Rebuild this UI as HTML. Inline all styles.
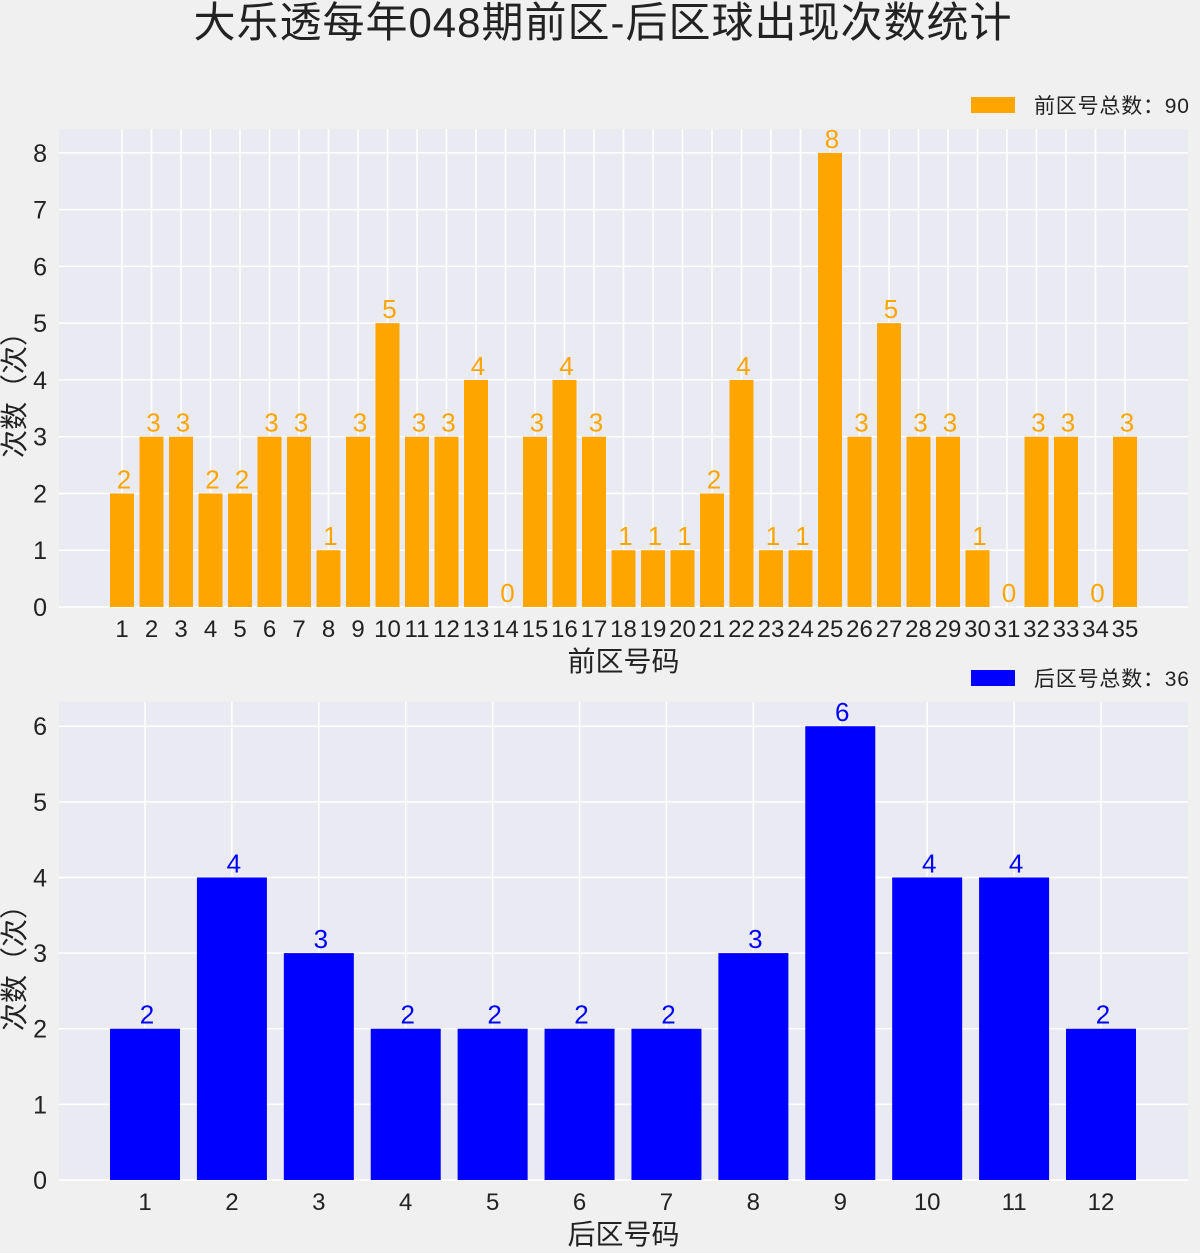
<!DOCTYPE html>
<html><head><meta charset="utf-8"><style>
body{margin:0;background:#f0f0f0;}
svg text{font-family:"Liberation Sans","Noto Sans CJK SC",sans-serif;}
</style></head><body>
<svg id="c" width="1200" height="1248" xmlns="http://www.w3.org/2000/svg">
<rect width="1200" height="1248" fill="#f0f0f0"/>
<text x="603" y="37" text-anchor="middle" font-size="42" letter-spacing="1" fill="#222">大乐透每年048期前区-后区球出现次数统计</text>
</svg>
<script>
const frontCats=[];for(let i=1;i<=35;i++)frontCats.push(String(i));
const frontVals=[2,3,3,2,2,3,3,1,3,5,3,3,4,0,3,4,3,1,1,1,2,4,1,1,8,3,5,3,3,1,0,3,3,0,3];
const frontTicks=[0,1,2,3,4,5,6,7,8];
const backCats=["1","2","3","4","5","6","7","8","9","10","11","12"];
const backVals=[2,4,3,2,2,2,2,3,6,4,4,2];
const backTicks=[0,1,2,3,4,5,6];
const svg=document.getElementById('c');
const NS="http://www.w3.org/2000/svg";
function mk(t,a,txt){const e=document.createElementNS(NS,t);for(const k in a)e.setAttribute(k,a[k]);if(txt!==undefined)e.textContent=txt;svg.appendChild(e);return e;}
function panel(o){
  const {cats,vals,ticks,x0,x1,y0,y1,ymax,color,first,last,xlab,legend,ly,pfx,bw,lblSize}=o;
  const bg=mk('rect',{x:x0,y:y0,width:x1-x0,height:y1-y0,fill:'#eaeaf2'});
  
  
  const ys=v=>y1-v/ymax*(y1-y0);
  const step=(last-first)/(cats.length-1);
  const xs=i=>first+i*step;
  ticks.forEach(t=>{
    const g=mk('line',{x1:x0,x2:x1,y1:ys(t),y2:ys(t),stroke:'#fff','stroke-width':1.5});
    
    
    const l=mk('text',{x:x0-12,y:ys(t)+9,'text-anchor':'end','font-size':25,fill:'#222'},String(t));
    
    
  });
  cats.forEach((c,i)=>{
    const g=mk('line',{x1:xs(i),x2:xs(i),y1:y0,y2:y1,stroke:'#fff','stroke-width':1.5});
    
    
  });
  cats.forEach((c,i)=>{
    const v=vals[i];
    const b=mk('rect',{x:xs(i)-bw/2,y:ys(v),width:bw,height:y1-ys(v),fill:color});
    
    
    const t=mk('text',{x:xs(i)+2,y:ys(v)-5,'text-anchor':'middle','font-size':lblSize,fill:color},String(v));
    
    
    const xl=mk('text',{x:xs(i),y:y1+30,'text-anchor':'middle','font-size':24,fill:'#222'},c);
    
    
  });
  const xt=mk('text',{x:(x0+x1)/2,y:y1+64,'text-anchor':'middle','font-size':28,fill:'#222'},xlab);
  
  
  const cy=(y0+y1)/2+20;
  const yt=mk('text',{x:24,y:cy,'text-anchor':'middle','font-size':28,fill:'#222',transform:`rotate(-90 24 ${cy})`},'次数（次）');
  
  
  const lp=mk('rect',{x:971,y:ly,width:44,height:16,fill:color});
  
  
  const lt=mk('text',{x:1034,y:ly+16,'font-size':21,'letter-spacing':0.8,fill:'#222'},legend);
  
  
}
panel({cats:frontCats,vals:frontVals,ticks:frontTicks,x0:59,x1:1188,y0:129,y1:607,ymax:8.42,color:'#ffa500',first:122,last:1125,xlab:'前区号码',legend:'前区号总数：90',ly:97,pfx:'front',bw:24,lblSize:26});
panel({cats:backCats,vals:backVals,ticks:backTicks,x0:59,x1:1188,y0:702,y1:1180,ymax:6.32,color:'#0000ff',first:145,last:1101,xlab:'后区号码',legend:'后区号总数：36',ly:670,pfx:'back',bw:70,lblSize:26});
</script>
</body></html>
